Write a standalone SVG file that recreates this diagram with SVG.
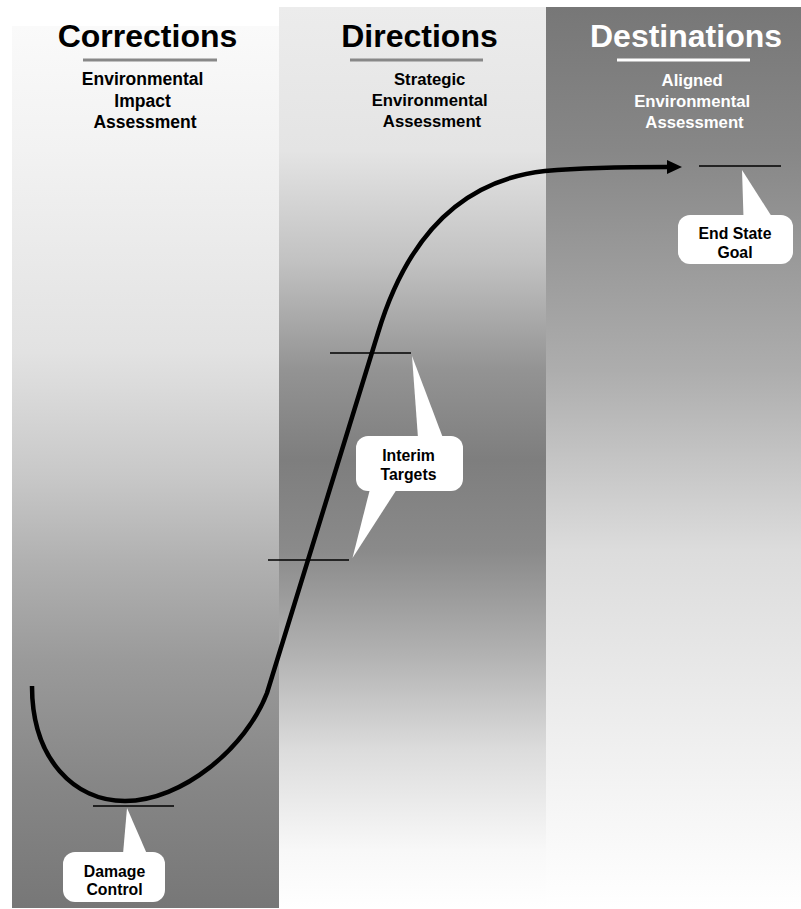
<svg xmlns="http://www.w3.org/2000/svg" width="801" height="909" viewBox="0 0 801 909">
  <style>
    .head { font-family: "Liberation Sans", Arial, sans-serif; font-weight: bold; font-size: 32px; text-anchor: middle; }
    .sub { font-family: "Liberation Sans", Arial, sans-serif; font-weight: bold; text-anchor: middle; }
    .lbl { font-family: "Liberation Sans", Arial, sans-serif; font-weight: bold; font-size: 15.8px; text-anchor: middle; fill: #000; }
    .tick { stroke: #000; stroke-width: 1.5; fill: none; }
    .bubble { fill: #fff; stroke: none; }
    .curve { stroke: #000; stroke-width: 4.5; fill: none; stroke-linejoin: round; }
  </style>
  <defs>
    <linearGradient id="gCorr" gradientUnits="userSpaceOnUse" x1="0" y1="26" x2="0" y2="908">
      <stop offset="0" stop-color="#fafafa"/>
      <stop offset="0.14" stop-color="#f2f2f2"/>
      <stop offset="0.37" stop-color="#e2e2e2"/>
      <stop offset="0.51" stop-color="#c8c8c8"/>
      <stop offset="0.61" stop-color="#b0b0b0"/>
      <stop offset="0.72" stop-color="#9a9a9a"/>
      <stop offset="0.86" stop-color="#868686"/>
      <stop offset="1" stop-color="#777777"/>
    </linearGradient>
    <linearGradient id="gDir" gradientUnits="userSpaceOnUse" x1="0" y1="7" x2="0" y2="909">
      <stop offset="0" stop-color="#ececec"/>
      <stop offset="0.159" stop-color="#e4e4e4"/>
      <stop offset="0.281" stop-color="#c2c2c2"/>
      <stop offset="0.403" stop-color="#939393"/>
      <stop offset="0.502" stop-color="#7e7e7e"/>
      <stop offset="0.602" stop-color="#8a8a8a"/>
      <stop offset="0.713" stop-color="#b0b0b0"/>
      <stop offset="0.824" stop-color="#dcdcdc"/>
      <stop offset="0.935" stop-color="#f8f8f8"/>
      <stop offset="1" stop-color="#ffffff"/>
    </linearGradient>
    <linearGradient id="gDest" gradientUnits="userSpaceOnUse" x1="0" y1="7" x2="0" y2="909">
      <stop offset="0" stop-color="#777777"/>
      <stop offset="0.159" stop-color="#878787"/>
      <stop offset="0.403" stop-color="#adadad"/>
      <stop offset="0.602" stop-color="#dcdcdc"/>
      <stop offset="0.824" stop-color="#f0f0f0"/>
      <stop offset="1" stop-color="#ffffff"/>
    </linearGradient>
    <marker id="arrow" viewBox="0 0 15 14" refX="0" refY="7" markerWidth="15" markerHeight="14" markerUnits="userSpaceOnUse" orient="auto">
      <path d="M0,0 L15,7 L0,14 Z" fill="#000"/>
    </marker>
  </defs>

  <rect width="801" height="909" fill="#fff"/>

  <!-- three stages -->
  <g id="col-corrections">
    <rect x="12" y="26" width="267" height="882" fill="url(#gCorr)"/>
    <text class="head" x="147.5" y="47" fill="#000">Corrections</text>
    <line x1="83" y1="60" x2="217" y2="60" stroke="#888" stroke-width="3"/>
    <text class="sub" font-size="17.5" fill="#000">
      <tspan x="145" y="85">Environmental</tspan>
      <tspan x="145" y="106.5">Impact</tspan>
      <tspan x="145" y="128">Assessment</tspan>
    </text>
  </g>

  <g id="col-directions">
    <rect x="279" y="7" width="267" height="902" fill="url(#gDir)"/>
    <text class="head" x="419.5" y="47" fill="#000">Directions</text>
    <line x1="350" y1="60" x2="483" y2="60" stroke="#888" stroke-width="3"/>
    <text class="sub" font-size="16.7" fill="#000">
      <tspan x="432" y="84.5">Strategic</tspan>
      <tspan x="432" y="105.5">Environmental</tspan>
      <tspan x="432" y="127">Assessment</tspan>
    </text>
  </g>

  <g id="col-destinations">
    <rect x="546" y="7" width="255" height="902" fill="url(#gDest)"/>
    <text class="head" x="686" y="47" fill="#fff">Destinations</text>
    <line x1="617" y1="60" x2="750" y2="60" stroke="#fff" stroke-width="3"/>
    <text class="sub" font-size="16.7" fill="#fff">
      <tspan x="694.5" y="85.5">Aligned</tspan>
      <tspan x="694.5" y="106.5">Environmental</tspan>
      <tspan x="694.5" y="127.5">Assessment</tspan>
    </text>
  </g>

  <!-- progress curve -->
  <g id="connectors">
    <path class="curve" marker-end="url(#arrow)"
      d="M32,686 C32,760 75,801 125,801 C182,801 246,748 267,693 L378,333 C400,260 445,182 545,171 C580,168 620,167 667,167"/>
  </g>

  <!-- milestone markers with callouts -->
  <g id="damage-control">
    <line class="tick" x1="93" y1="806" x2="174" y2="806"/>
    <path class="bubble" d="M127,808 L123,854 L147,854 Z"/>
    <rect class="bubble" x="63" y="852" width="102" height="50" rx="12"/>
    <text class="lbl" x="114.5" y="876.5">Damage</text>
    <text class="lbl" x="114.5" y="895">Control</text>
  </g>

  <g id="interim-targets">
    <line class="tick" x1="330" y1="353" x2="411" y2="353"/>
    <line class="tick" x1="268" y1="560" x2="349" y2="560"/>
    <path class="bubble" d="M412,356 L418,438 L443,438 Z"/>
    <path class="bubble" d="M352.5,558 L370,489 L397,489 Z"/>
    <rect class="bubble" x="356" y="436" width="107" height="55" rx="12"/>
    <text class="lbl" x="408.5" y="461">Interim</text>
    <text class="lbl" x="408.5" y="479.5">Targets</text>
  </g>

  <g id="end-state-goal">
    <line class="tick" x1="699" y1="166" x2="781" y2="166"/>
    <path class="bubble" d="M742,170 L743.5,217 L772,217 Z"/>
    <rect class="bubble" x="678" y="215" width="115" height="49" rx="12"/>
    <text class="lbl" x="735" y="239">End State</text>
    <text class="lbl" x="735" y="257.5">Goal</text>
  </g>
</svg>
